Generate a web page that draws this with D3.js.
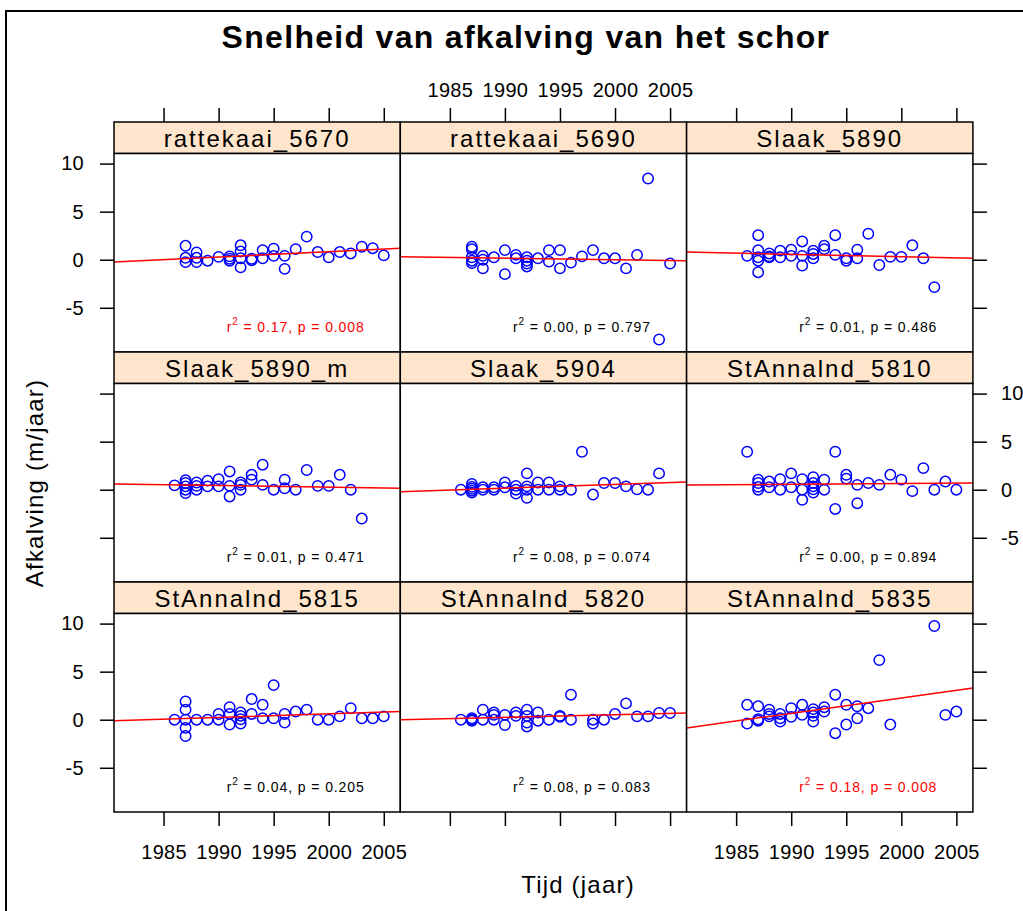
<!DOCTYPE html>
<html>
<head>
<meta charset="utf-8">
<script src="https://cdnjs.cloudflare.com/ajax/libs/d3/7.8.5/d3.min.js"></script>
<style>
  body { margin: 0; background: #fff; }
  svg { display: block; font-family: "Liberation Sans", Arial, sans-serif; }
</style>
</head>
<body>
<script>
// panel names, in reading order (top-left first)
var panelNames = ["rattekaai_5670", "rattekaai_5690", "Slaak_5890",
                  "Slaak_5890_m", "Slaak_5904", "StAnnalnd_5810",
                  "StAnnalnd_5815", "StAnnalnd_5820", "StAnnalnd_5835"];

// [year, afkalving (m/jaar)] per panel
var rattekaai5670 = [[1987,1.45],[1987,0.2],[1987,-0.25],[1988,0.75],[1988,0.2],[1988,-0.25],[1989,-0.1],[1990,0.3],
  [1991,0.35],[1991,0.1],[1991,-0.1],[1992,1.5],[1992,0.85],[1992,0.15],[1992,-0.8],[1993,-0.05],[1993,0.1],
  [1994,1.0],[1994,0.15],[1995,1.15],[1995,0.4],[1996,0.4],[1996,-0.95],[1997,1.1],[1998,2.4],[1999,0.8],
  [2000,0.25],[2001,0.8],[2002,0.65],[2003,1.35],[2004,1.2],[2005,0.45]];
var rattekaai5690 = [[1987,1.35],[1987,1.1],[1987,0.25],[1987,-0.1],[1987,-0.35],[1988,0.4],[1988,0],[1988,-0.9],
  [1989,0.25],[1990,1.0],[1990,-1.5],[1991,0.5],[1991,0.15],[1992,0.25],[1992,-0.1],[1992,-0.4],[1992,-0.7],
  [1993,0.15],[1994,1.0],[1994,-0.2],[1995,1.0],[1995,-0.9],[1996,-0.3],[1997,0.35],[1998,1.0],[1999,0.15],
  [2000,0.15],[2001,-0.9],[2002,0.5],[2003,8.45],[2004,-8.3],[2005,-0.4]];
var slaak5890 = [[1986,0.4],[1987,2.55],[1987,1.0],[1987,0.25],[1987,-0.1],[1987,-1.3],[1988,0.65],[1988,0.25],
  [1988,0.35],[1989,0.95],[1989,0.25],[1990,1.05],[1990,0.4],[1991,1.9],[1991,0.4],[1991,-0.6],[1992,0.95],
  [1992,0.6],[1992,0.15],[1993,1.45],[1993,1.1],[1994,2.55],[1994,0.5],[1995,0.15],[1995,-0.1],[1996,1.05],
  [1996,0.15],[1997,2.7],[1998,-0.55],[1999,0.3],[2000,0.3],[2001,1.5],[2002,0.15],[2003,-2.85]];
var slaak5890m = [[1986,0.45],[1987,1.0],[1987,0.7],[1987,0.35],[1987,0],[1987,-0.35],[1988,0.75],[1988,0.4],
  [1988,0],[1989,0.95],[1989,0.35],[1990,1.1],[1990,0.35],[1991,1.9],[1991,0.4],[1991,-0.7],[1992,0.75],
  [1992,0.5],[1992,0],[1993,1.55],[1993,1.05],[1994,2.6],[1994,0.5],[1995,0],[1996,1.05],[1996,0.15],
  [1997,0],[1998,2.05],[1999,0.4],[2000,0.4],[2001,1.55],[2002,0],[2003,-3.0]];
var slaak5904 = [[1986,0],[1987,0.6],[1987,0.3],[1987,0.1],[1987,-0.1],[1987,-0.3],[1988,0.25],[1988,0],
  [1989,0.25],[1989,0],[1990,0.75],[1990,0.25],[1991,0.4],[1991,0],[1991,-0.4],[1992,1.7],[1992,0.35],
  [1992,0],[1992,-0.85],[1993,0.75],[1993,0],[1994,0.75],[1994,0],[1995,0.35],[1995,0],[1996,0],[1997,3.95],
  [1998,-0.5],[1999,0.7],[2000,0.7],[2001,0.35],[2002,0.05],[2003,0],[2004,1.7]];
var stAnnalnd5810 = [[1986,3.95],[1987,1.05],[1987,0.7],[1987,0.3],[1987,0],[1988,0.85],[1988,0.25],[1989,1.1],
  [1989,0],[1990,1.7],[1990,0.25],[1991,1.1],[1991,0],[1991,-1.05],[1992,1.3],[1992,0.7],[1992,0.35],
  [1992,0.05],[1992,-0.3],[1993,1.05],[1993,0],[1994,3.95],[1994,-2.0],[1995,1.55],[1995,1.15],[1996,0.5],
  [1996,-1.4],[1997,0.7],[1998,0.5],[1999,1.55],[2000,1.05],[2001,-0.15],[2002,2.25],[2003,0],[2004,0.85],[2005,0]];
var stAnnalnd5815 = [[1986,0],[1987,1.9],[1987,1.05],[1987,0],[1987,-0.85],[1987,-1.7],[1988,0],[1989,0],
  [1990,0.6],[1990,0],[1991,1.3],[1991,0.6],[1991,-0.5],[1992,0.75],[1992,0.4],[1992,0.05],[1992,-0.4],
  [1993,2.15],[1993,0.6],[1994,1.55],[1994,0.15],[1995,3.6],[1995,0.15],[1996,0.6],[1996,-0.3],[1997,0.85],
  [1998,1.05],[1999,0],[2000,0],[2001,0.35],[2002,1.2],[2003,0.15],[2004,0.15],[2005,0.35]];
var stAnnalnd5820 = [[1986,0],[1987,0.15],[1987,0],[1987,-0.1],[1988,1.05],[1988,0],[1989,0.75],[1989,0.5],
  [1989,0],[1990,0.5],[1990,-0.55],[1991,0.75],[1991,0.4],[1992,1.05],[1992,0.4],[1992,-0.3],[1992,-0.7],
  [1993,0.75],[1993,-0.1],[1994,0],[1995,0.4],[1995,0.3],[1996,2.6],[1996,0],[1998,0],[1998,-0.4],[1999,0],
  [2000,0.6],[2001,1.7],[2002,0.35],[2003,0.35],[2004,0.7],[2005,0.7]];
var stAnnalnd5835 = [[1986,1.55],[1986,-0.4],[1987,1.4],[1987,0.05],[1987,-0.1],[1988,1.05],[1988,0.6],[1988,0.35],
  [1989,0.6],[1989,0.15],[1989,-0.2],[1990,1.2],[1990,0.3],[1991,1.55],[1991,0.5],[1992,1.1],[1992,0.75],
  [1992,0.4],[1992,-0.2],[1993,1.3],[1993,0.85],[1994,2.6],[1994,-1.4],[1995,1.55],[1995,-0.5],[1996,1.4],
  [1996,0.15],[1997,1.2],[1998,6.2],[1999,-0.5],[2003,9.75],[2004,0.5],[2005,0.85]];

var panelData = [rattekaai5670, rattekaai5690, slaak5890, slaak5890m, slaak5904,
                 stAnnalnd5810, stAnnalnd5815, stAnnalnd5820, stAnnalnd5835];

// regression line: fitted value at the left and right edge of the x range
var fitLeft  = [-0.25, 0.3, 0.8, 0.6, -0.2, 0.5, -0.1, 0.0, -0.85];
var fitRight = [1.2, -0.1, 0.15, 0.15, 0.8, 0.7, 0.85, 0.7, 3.3];

// fit statistics
var r2Text = ["0.17", "0.00", "0.01", "0.01", "0.08", "0.00", "0.04", "0.08", "0.18"];
var pText  = ["0.008", "0.797", "0.486", "0.471", "0.074", "0.894", "0.205", "0.083", "0.008"];

var yearTicks = [1985, 1990, 1995, 2000, 2005];
var valueTicks = [-5, 0, 5, 10];
var xRange = [1980.5, 2006.5];
var yRange = [-9.6, 11.05];

var width = 1023, height = 911;
var colLeft = 114, colWidth = 286.3,
    rowTop = 122, rowPitch = 230,
    stripH = 31.5, panelH = 198.5,
    tickLen = 14;

var svg = d3.select("body").append("svg")
    .attr("width", width)
    .attr("height", height);

// outer frame
svg.append("rect")
    .attr("x", 6).attr("y", 11)
    .attr("width", 1100).attr("height", 1000)
    .attr("fill", "none").attr("stroke", "#000").attr("stroke-width", 2);

var x = d3.scaleLinear().domain(xRange).range([0, colWidth]);
var y = d3.scaleLinear().domain(yRange).range([panelH, 0]);

var plain = function(d) { return String(d); },
    blank = function() { return ""; };

panelNames.forEach(function(name, i) {
  var col = i % 3, row = Math.floor(i / 3);
  var g = svg.append("g")
      .attr("transform", "translate(" + (colLeft + col * colWidth) + "," + (rowTop + row * rowPitch) + ")");

  // strip
  g.append("rect")
      .attr("width", colWidth).attr("height", stripH)
      .attr("fill", "#ffe5cc").attr("stroke", "#000").attr("stroke-width", 1.5);
  g.append("text")
      .attr("x", colWidth / 2).attr("y", stripH / 2 + 1)
      .attr("dy", "0.35em")
      .attr("text-anchor", "middle")
      .style("font-size", "24px")
      .style("letter-spacing", "2px")
      .text(name);

  var p = g.append("g").attr("transform", "translate(0," + stripH + ")");

  p.append("clipPath").attr("id", "clip" + i)
    .append("rect").attr("width", colWidth).attr("height", panelH);

  p.append("rect")
      .attr("width", colWidth).attr("height", panelH)
      .attr("fill", "#fff");

  // points
  p.append("g").attr("clip-path", "url(#clip" + i + ")")
    .selectAll("circle")
    .data(panelData[i])
    .enter().append("circle")
      .attr("cx", function(d) { return x(d[0]); })
      .attr("cy", function(d) { return y(d[1]); })
      .attr("r", 5.2)
      .attr("fill", "none")
      .attr("stroke", "#0000ff")
      .attr("stroke-width", 1.5);

  // regression line
  p.append("line")
      .attr("clip-path", "url(#clip" + i + ")")
      .attr("x1", x(xRange[0])).attr("y1", y(fitLeft[i]))
      .attr("x2", x(xRange[1])).attr("y2", y(fitRight[i]))
      .attr("stroke", "#ff0000").attr("stroke-width", 1.5);

  // statistics label
  var signif = parseFloat(pText[i]) < 0.05;
  var t = p.append("text")
      .attr("x", x(1997)).attr("y", y(-7))
      .attr("dy", "0.35em")
      .attr("text-anchor", "middle")
      .attr("fill", signif ? "#ff0000" : "#000")
      .style("font-size", "14px")
      .style("letter-spacing", "0.9px");
  t.append("tspan").text("r");
  t.append("tspan").attr("dy", -7).style("font-size", "10px").text("2");
  t.append("tspan").attr("dy", 7).text(" = " + r2Text[i] + ",  p = " + pText[i]);

  p.append("rect")
      .attr("width", colWidth).attr("height", panelH)
      .attr("fill", "none").attr("stroke", "#000").attr("stroke-width", 1.5);
});

function styleAxis(a) {
  a.select(".domain").remove();
  a.selectAll("line").attr("stroke", "#000").attr("stroke-width", 1.5);
  a.selectAll("text")
      .attr("fill", "#000")
      .style("font-size", "20px")
      .style("font-family", '"Liberation Sans", Arial, sans-serif')
      .style("letter-spacing", "0.3px");
}

// top and bottom axes
for (var c = 0; c < 3; c++) {
  var colX = colLeft + c * colWidth;
  svg.append("g")
      .attr("transform", "translate(" + colX + "," + rowTop + ")")
      .call(d3.axisTop(x).tickValues(yearTicks).tickSize(tickLen).tickPadding(11)
        .tickFormat(c === 1 ? plain : blank))
      .call(styleAxis);
  svg.append("g")
      .attr("transform", "translate(" + colX + "," + (rowTop + 2 * rowPitch + stripH + panelH) + ")")
      .call(d3.axisBottom(x).tickValues(yearTicks).tickSize(tickLen).tickPadding(19)
        .tickFormat(c !== 1 ? plain : blank))
      .call(styleAxis);
}

// left and right axes
for (var r = 0; r < 3; r++) {
  var rowY = rowTop + r * rowPitch + stripH;
  svg.append("g")
      .attr("transform", "translate(" + colLeft + "," + rowY + ")")
      .call(d3.axisLeft(y).tickValues(valueTicks).tickSize(tickLen).tickPadding(16)
        .tickFormat(r !== 1 ? plain : blank))
      .call(styleAxis);
  svg.append("g")
      .attr("transform", "translate(" + (colLeft + 3 * colWidth) + "," + rowY + ")")
      .call(d3.axisRight(y).tickValues(valueTicks).tickSize(tickLen).tickPadding(14)
        .tickFormat(r === 1 ? plain : blank))
      .call(styleAxis);
}

// titles
svg.append("text")
    .attr("x", 526).attr("y", 48)
    .attr("text-anchor", "middle")
    .style("font-size", "32px")
    .style("font-weight", "bold")
    .style("letter-spacing", "1.3px")
    .text("Snelheid van afkalving van het schor");

svg.append("text")
    .attr("x", 578).attr("y", 893)
    .attr("text-anchor", "middle")
    .style("font-size", "24px")
    .style("letter-spacing", "1.2px")
    .text("Tijd (jaar)");

svg.append("text")
    .attr("transform", "translate(43,483) rotate(-90)")
    .attr("text-anchor", "middle")
    .style("font-size", "24px")
    .style("letter-spacing", "1.2px")
    .text("Afkalving (m/jaar)");
</script>
</body>
</html>
